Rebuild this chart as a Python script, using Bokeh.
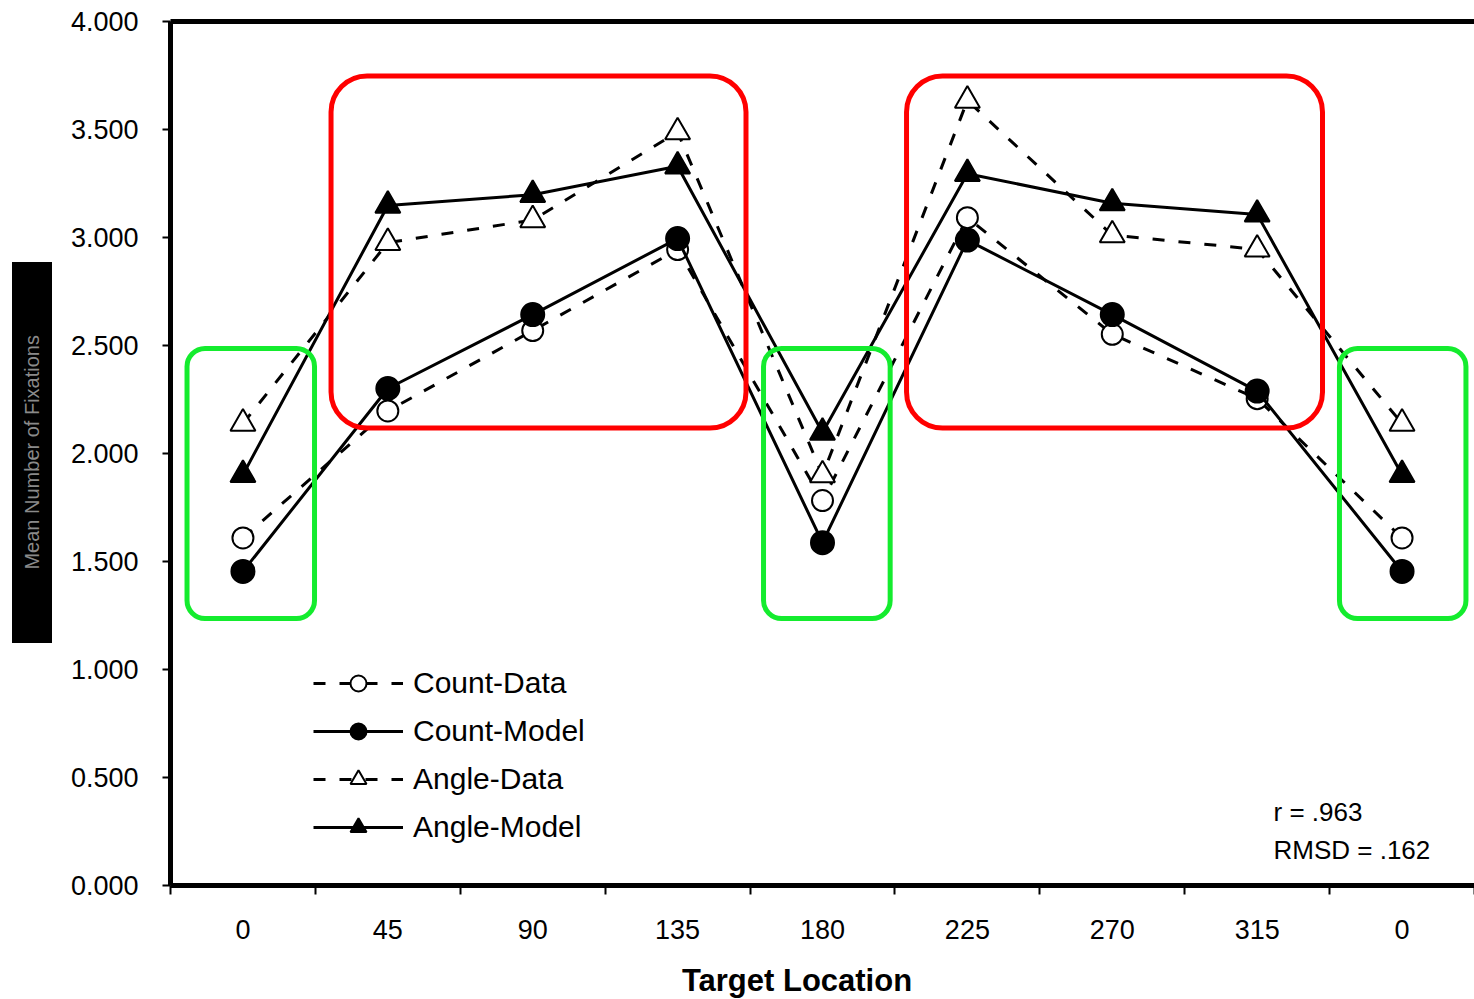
from bokeh.plotting import figure
from bokeh.models import (Legend, LegendItem, Label, BoxAnnotation, FixedTicker,
                          NumeralTickFormatter, LinearAxis, Range1d, Div)
from bokeh.layouts import row, column
from bokeh.embed import file_html
from bokeh.resources import INLINE

# ---------------- data ----------------
x_labels = ["0", "45", "90", "135", "180", "225", "270", "315", "0"]
count_data = [1.609, 2.197, 2.569, 2.944, 1.782, 3.092, 2.552, 2.254, 1.609]
count_model = [1.454, 2.301, 2.643, 2.995, 1.587, 2.988, 2.643, 2.289, 1.454]
angle_data = [2.139, 2.976, 3.081, 3.488, 1.900, 3.634, 3.011, 2.945, 2.139]
angle_model = [1.902, 3.148, 3.198, 3.330, 2.097, 3.295, 3.159, 3.107, 1.902]
y_ticks = [0.0, 0.5, 1.0, 1.5, 2.0, 2.5, 3.0, 3.5, 4.0]
series_names = ["Count-Data", "Count-Model", "Angle-Data", "Angle-Model"]
stat_lines = ["r = .963", "RMSD = .162"]
x_title = "Target Location"
y_title = "Mean Number of Fixations"

# highlight regions (data units: left, right, bottom, top)
red_regions = [(0.608, 3.472, 2.118, 3.748), (4.580, 7.451, 2.118, 3.748)]
green_regions = [(-0.386, 0.494, 1.236, 2.486), (3.593, 4.467, 1.236, 2.486),
                 (7.568, 8.441, 1.236, 2.486)]

FONT = "Liberation Sans"
xs = list(range(len(x_labels)))

p = figure(frame_width=1304, frame_height=864,
           x_range=Range1d(-0.5, len(x_labels) - 0.5), y_range=Range1d(0, 4),
           output_backend="svg", toolbar_location=None,
           min_border_left=118, min_border_right=0, min_border_top=21,
           min_border_bottom=70)
p.grid.visible = False
p.outline_line_color = None
p.background_fill_color = "white"
p.border_fill_color = "white"

# x axis
xa = p.xaxis[0]
xa.ticker = FixedTicker(ticks=xs, minor_ticks=[i - 0.5 for i in range(len(x_labels) + 1)])
xa.major_label_overrides = {i: lab for i, lab in enumerate(x_labels)}
xa.major_tick_line_color = None
xa.major_tick_out = 0
xa.major_tick_in = 0
xa.minor_tick_out = 9
xa.minor_tick_in = 0
xa.minor_tick_line_width = 2
xa.minor_tick_line_color = "black"
xa.axis_line_width = 5
xa.axis_line_color = "black"
xa.major_label_text_font_size = "27px"
xa.major_label_text_font = FONT
xa.major_label_text_color = "black"
xa.major_label_standoff = 25

# y axis
ya = p.yaxis[0]
ya.ticker = FixedTicker(ticks=y_ticks)
ya.formatter = NumeralTickFormatter(format="0.000")
ya.major_tick_out = 8
ya.major_tick_in = 0
ya.major_tick_line_width = 2
ya.minor_tick_line_color = None
ya.axis_line_width = 5
ya.axis_line_color = "black"
ya.major_label_text_font_size = "27px"
ya.major_label_text_font = FONT
ya.major_label_text_color = "black"
ya.major_label_standoff = 24

# top border line
top = LinearAxis(ticker=FixedTicker(ticks=[]), axis_line_width=5, axis_line_color="black",
                 major_tick_line_color=None, minor_tick_line_color=None,
                 major_label_text_font_size="0px")
p.add_layout(top, "above")

# series
DASH = "12 14"
styles = [
    (count_data, DASH, "circle", "white", 21),
    (count_model, "solid", "circle", "black", 23),
    (angle_data, DASH, "triangle", "white", 25),
    (angle_model, "solid", "triangle", "black", 25),
]
items = []
for name, (vals, dash, marker, fill, size) in zip(series_names, styles):
    rl = p.line(xs, vals, line_color="black", line_width=3, line_dash=dash)
    rm = p.scatter(xs, vals, marker=marker, size=size, fill_color=fill,
                   line_color="black", line_width=2)
    items.append(LegendItem(label=name, renderers=[rl, rm]))

legend = Legend(items=items, location=(143, 38), glyph_width=90, glyph_height=40,
                spacing=8, label_standoff=10, padding=0, margin=0,
                border_line_alpha=0, background_fill_alpha=0,
                label_text_font_size="30px", label_text_font=FONT,
                label_text_color="black")
p.add_layout(legend)

# highlight boxes
for (l, r, b, t) in red_regions:
    p.add_layout(BoxAnnotation(left=l, right=r, bottom=b, top=t, fill_alpha=0,
                               line_color="#FF0000", line_alpha=1.0, line_width=5,
                               border_radius=36))
for (l, r, b, t) in green_regions:
    p.add_layout(BoxAnnotation(left=l, right=r, bottom=b, top=t, fill_alpha=0,
                               line_color="#14EC2E", line_alpha=1.0, line_width=5,
                               border_radius=18))

# stats text
p.add_layout(Label(x=1103, y=74, x_units="screen", y_units="screen", text=stat_lines[0],
                   text_font_size="26px", text_font=FONT, text_baseline="middle",
                   text_color="black"))
p.add_layout(Label(x=1103, y=36, x_units="screen", y_units="screen", text=stat_lines[1],
                   text_font_size="26px", text_font=FONT, text_baseline="middle",
                   text_color="black"))

# y-axis title (dark box) as a side element
ybox = Div(width=52, height=955, margin=0, text=(
    '<div style="margin:262px 0 0 12px; width:40px; height:381px; background:#000;'
    ' display:flex; align-items:center; justify-content:center; overflow:hidden;">'
    '<span style="writing-mode:vertical-rl; transform:rotate(180deg);'
    ' color:#8a8a8a; font-family:\'Liberation Sans\'; font-size:20px;'
    ' white-space:nowrap;">' + y_title + '</span></div>'))

# x-axis title below the chart, slightly left of the frame centre as in the original
xtitle = Div(width=1474, height=40, margin=0, text=(
    '<div style="width:1594px; text-align:center; margin-top:8px;'
    ' font-family:\'Liberation Sans\'; font-weight:bold; font-size:31px;'
    ' line-height:36px; color:#000; white-space:nowrap;">' + x_title + '</div>'))

layout = column(row(ybox, p, spacing=0), xtitle, spacing=0)
open("out.html", "w").write(file_html(layout, INLINE))
